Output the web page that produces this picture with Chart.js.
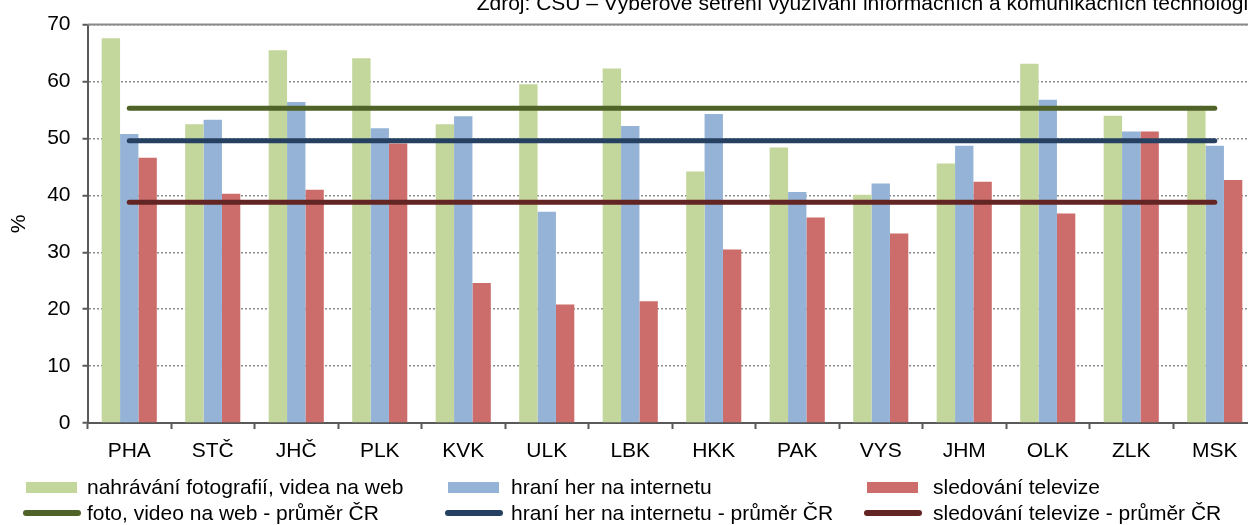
<!DOCTYPE html>
<html>
<head>
<meta charset="utf-8">
<script src="https://cdn.jsdelivr.net/npm/chart.js@4.4.1/dist/chart.umd.min.js"></script>
<style>
    html, body { margin: 0; padding: 0; background: #fff; overflow: hidden; }
    #wrap { width: 1258px; height: 525px; }
</style>
</head>
<body>
<div id="wrap"><canvas id="chart" width="1258" height="525"></canvas></div>
<script>
/* DATA */

var categories = ['PHA', 'STČ', 'JHČ', 'PLK', 'KVK', 'ULK', 'LBK', 'HKK', 'PAK', 'VYS', 'JHM', 'OLK', 'ZLK', 'MSK'];

var uploadValues = [67.6, 52.5, 65.5, 64.1, 52.5, 59.5, 62.3, 44.2, 48.4, 40.1, 45.6, 63.1, 54.0, 55.2];
var gamesValues  = [50.8, 53.3, 56.4, 51.8, 53.9, 37.1, 52.2, 54.3, 40.6, 42.1, 48.7, 56.8, 51.2, 48.7];
var tvValues     = [46.6, 40.3, 41.0, 49.1, 24.6, 20.8, 21.4, 30.5, 36.1, 33.3, 42.4, 36.8, 51.2, 42.7];

// průměry za ČR
var uploadAvg = 55.3;
var gamesAvg  = 49.6;
var tvAvg     = 38.8;

var yTicks = [0, 10, 20, 30, 40, 50, 60, 70];

var sourceText = 'Zdroj: ČSÚ – Výběrové šetření využívání informačních a komunikačních technologií';

/* STYLE */

var fontFamily = '"Liberation Sans", Arial, sans-serif';
var fontSize = 21;
var axisColor = '#595959';

// vodorovná čára průměru od první do poslední kategorie
function avgLine(value) {
    return [
        { x: categories[0], y: value },
        { x: categories[categories.length - 1], y: value }
    ];
}

var legendBoxX  = [26, 448, 867];
var legendTextX = [87, 511, 933];
var legendY     = [487.5, 513];

var legendPlugin = {
    id: 'customLegend',
    afterDraw: function (chart) {
        var ctx = chart.ctx;
        ctx.save();
        ctx.font = fontSize + 'px ' + fontFamily;
        ctx.textBaseline = 'middle';
        ctx.textAlign = 'left';
        chart.data.datasets.forEach(function (ds, i) {
            var x = legendBoxX[i % 3];
            var y = legendY[Math.floor(i / 3)];
            if (ds.type === 'line') {
                ctx.strokeStyle = ds.borderColor;
                ctx.lineWidth = 6;
                ctx.lineCap = 'round';
                ctx.beginPath();
                ctx.moveTo(x, y);
                ctx.lineTo(x + 52, y);
                ctx.stroke();
            } else {
                ctx.fillStyle = ds.backgroundColor;
                ctx.fillRect(x, y - 5.5, 51, 11);
            }
            ctx.fillStyle = '#000';
            ctx.fillText(ds.label, legendTextX[i % 3], y + 1);
        });
        ctx.restore();
    }
};

var framePlugin = {
    id: 'frameAndSource',
    afterDraw: function (chart) {
        var ctx = chart.ctx;
        var area = chart.chartArea;
        ctx.save();
        // horní okraj grafu
        ctx.strokeStyle = '#8a8a8a';
        ctx.lineWidth = 2;
        ctx.beginPath();
        ctx.moveTo(area.left, area.top);
        ctx.lineTo(area.right, area.top);
        ctx.stroke();
        // zdroj (nahoře uříznutý)
        ctx.fillStyle = '#000';
        ctx.font = fontSize + 'px ' + fontFamily;
        ctx.textBaseline = 'alphabetic';
        ctx.textAlign = 'right';
        ctx.fillText(sourceText, 1254, 10);
        ctx.restore();
    }
};

var ctx = document.getElementById('chart').getContext('2d');

var myChart = new Chart(ctx, {
    type: 'bar',
    data: {
        labels: categories,
        datasets: [
            {
                label: 'nahrávání fotografií, videa na web',
                data: uploadValues,
                backgroundColor: '#C3D69B',
                order: 1
            },
            {
                label: 'hraní her na internetu',
                data: gamesValues,
                backgroundColor: '#95B3D7',
                order: 1
            },
            {
                label: 'sledování televize',
                data: tvValues,
                backgroundColor: '#CC6D6B',
                order: 1
            },
            {
                type: 'line',
                label: 'foto, video na web - průměr ČR',
                data: avgLine(uploadAvg),
                borderColor: '#4F6228',
                borderWidth: 5,
                borderCapStyle: 'round',
                pointRadius: 0,
                fill: false,
                order: 0
            },
            {
                type: 'line',
                label: 'hraní her na internetu - průměr ČR',
                data: avgLine(gamesAvg),
                borderColor: '#254061',
                borderWidth: 5,
                borderCapStyle: 'round',
                pointRadius: 0,
                fill: false,
                order: 0
            },
            {
                type: 'line',
                label: 'sledování televize - průměr ČR',
                data: avgLine(tvAvg),
                borderColor: '#632523',
                borderWidth: 5,
                borderCapStyle: 'round',
                pointRadius: 0,
                fill: false,
                order: 0
            }
        ]
    },
    options: {
        responsive: false,
        animation: false,
        layout: {
            padding: { top: 24, left: 0, right: 1.5, bottom: 62 }
        },
        datasets: {
            bar: {
                categoryPercentage: 0.66,
                barPercentage: 1.0
            }
        },
        scales: {
            x: {
                grid: {
                    drawOnChartArea: false,
                    tickLength: 6,
                    tickColor: axisColor,
                    tickWidth: 2
                },
                border: {
                    color: axisColor,
                    width: 2
                },
                ticks: {
                    padding: 10,
                    color: '#000',
                    font: { family: fontFamily, size: fontSize }
                },
                afterFit: function (scale) {
                    scale.height = 40;
                }
            },
            y: {
                min: 0,
                max: 70,
                afterBuildTicks: function (scale) {
                    scale.ticks = yTicks.map(function (v) { return { value: v }; });
                },
                grid: {
                    color: '#8c8c8c',
                    lineWidth: 1.5,
                    tickLength: 5,
                    tickColor: axisColor,
                    tickWidth: 2,
                    tickBorderDash: []
                },
                border: {
                    color: axisColor,
                    width: 2,
                    dash: [2, 2]
                },
                ticks: {
                    padding: 12,
                    color: '#000',
                    font: { family: fontFamily, size: fontSize }
                },
                title: {
                    display: true,
                    text: '%',
                    color: '#000',
                    font: { family: fontFamily, size: fontSize },
                    padding: { top: 7, bottom: 0 }
                },
                afterFit: function (scale) {
                    scale.width = 87.5;
                }
            }
        },
        plugins: {
            legend: { display: false },
            tooltip: { enabled: false }
        }
    },
    plugins: [legendPlugin, framePlugin]
});
</script>
</body>
</html>
